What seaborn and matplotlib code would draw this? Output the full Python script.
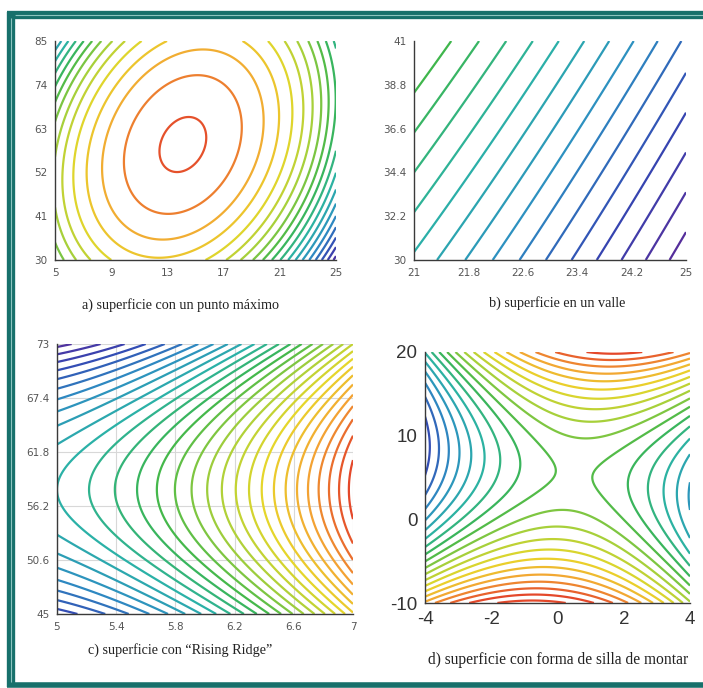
import numpy as np
import matplotlib
matplotlib.use("Agg")
import matplotlib.pyplot as plt
from matplotlib.lines import Line2D
import seaborn as sns

sns.set_theme(style="white")
plt.rcParams["font.family"] = ["Liberation Sans", "DejaVu Sans"]

# ---- tick values -------------------------------------------------------
xticks_a = [5, 9, 13, 17, 21, 25]
yticks_a = [30, 41, 52, 63, 74, 85]
xticks_b = [21, 21.8, 22.6, 23.4, 24.2, 25]
yticks_b = [30, 32.2, 34.4, 36.6, 38.8, 41]
xticks_c = [5, 5.4, 5.8, 6.2, 6.6, 7]
yticks_c = [45, 50.6, 56.2, 61.8, 67.4, 73]
xticks_d = [-4, -2, 0, 2, 4]
yticks_d = [-10, 0, 10, 20]

captions = [
    "a) superficie con un punto máximo",
    "b) superficie en un valle",
    "c) superficie con \u201cRising Ridge\u201d",
    "d) superficie con forma de silla de montar",
]

# ---- response surfaces (quadratic models) -------------------------------
# a) maximum: z = -Q,  Q = A dx^2 + B dy^2 + C dx dy
center_a = (14.1, 59.0)
coef_a = (1.0, 0.058, -0.12)
levels_a = [-221.0, -211.0, -201.0, -191.0, -181.0, -171.0, -161.0, -151.0,
            -141.0, -131.0, -121.0, -111.0, -101.0, -91.0, -80.0, -69.0,
            -57.0, -44.0, -31.0, -16.5, -2.6]
range_a = (-212.0, 0.0)

# b) valley: z = (y - y0) - p (x - x0) - q (x - x0)^2
origin_b = (21.0, 30.0)
coef_b = (4.67, 0.145)
levels_b = [-19.6, -17.6, -15.6, -13.6, -11.6, -9.6, -7.6, -5.6, -3.6,
            -1.6, 0.4, 2.4, 4.4, 6.4, 8.4]
range_b = (-20.5, 37.0)

# c) rising ridge: z = (x - xs)^2 - f (y - y0)^2
center_c = (4.3, 57.9)
coef_c = 0.016
levels_c = [-3.36, -3.01, -2.66, -2.31, -1.96, -1.61, -1.26, -0.91, -0.56,
            -0.21, 0.14, 0.49, 0.84, 1.19, 1.54, 1.89, 2.24, 2.59, 2.94,
            3.29, 3.64, 3.99, 4.34, 4.69, 5.04, 5.39, 5.74, 6.09, 6.44,
            6.79, 7.14]
range_c = (-3.4, 7.0)

# d) saddle: z = a dy^2 - b dx^2 + c dx dy
center_d = (0.5, 5.4)
coef_d = (1.0, 9.0, 1.5)
levels_d = [-181.3, -159.0, -136.7, -114.4, -92.1, -69.8, -47.5, -25.2, -2.9,
            19.4, 41.7, 64.0, 86.3, 108.6, 130.9, 153.2, 175.5, 197.8, 220.1, 242.4]
range_d = (-245.0, 215.0)

cmap = sns.blend_palette(["#5a2a98", "#3446b2", "#2d8ec2", "#2bb2a6", "#3db64c",
                          "#a8d03a", "#e8d62a", "#f3a533", "#e4482a"], as_cmap=True)

W, H = 703, 688
fig = plt.figure(figsize=(W / 100, H / 100), dpi=100)


def frac(l, t, r, b):
    return [l / W, 1 - b / H, (r - l) / W, (b - t) / H]


def style_axes(ax, xt, yt, labsize, labcolor, family, grid=False):
    for s in ("top", "right"):
        ax.spines[s].set_visible(False)
    for s in ("left", "bottom"):
        ax.spines[s].set_color("#3a3a3a")
        ax.spines[s].set_linewidth(1.0)
    ax.set_xticks(xt)
    ax.set_yticks(yt)
    ax.set_xticklabels([f"{v:g}" for v in xt], family=family)
    ax.set_yticklabels([f"{v:g}" for v in yt], family=family)
    ax.tick_params(axis="both", direction="inout", length=9, width=1.0,
                   color="#3a3a3a", labelsize=labsize, labelcolor=labcolor, pad=1)
    ax.set_xlim(xt[0], xt[-1])
    ax.set_ylim(yt[0], yt[-1])
    if grid:
        ax.grid(True, color="#d8d8d8", linewidth=0.8)
    else:
        ax.grid(False)
    ax.set_facecolor("white")


def draw(ax, X, Y, Z, levels, vrange):
    ax.contour(X, Y, Z, levels=levels, cmap=cmap, vmin=vrange[0], vmax=vrange[1],
               linewidths=1.6)


small_font = ["DejaVu Sans"]

# a
ax = fig.add_axes(frac(55, 41, 336, 260))
x = np.linspace(xticks_a[0], xticks_a[-1], 400)
y = np.linspace(yticks_a[0], yticks_a[-1], 400)
X, Y = np.meshgrid(x, y)
dx, dy = X - center_a[0], Y - center_a[1]
A, B, C = coef_a
Z = -(A * dx ** 2 + B * dy ** 2 + C * dx * dy)
draw(ax, X, Y, Z, levels_a, range_a)
style_axes(ax, xticks_a, yticks_a, 7.5, "#555555", small_font)

# b
ax = fig.add_axes(frac(414, 41, 686, 260))
x = np.linspace(xticks_b[0], xticks_b[-1], 400)
y = np.linspace(yticks_b[0], yticks_b[-1], 400)
X, Y = np.meshgrid(x, y)
u = X - origin_b[0]
Z = (Y - origin_b[1]) - coef_b[0] * u - coef_b[1] * u ** 2
draw(ax, X, Y, Z, levels_b, range_b)
style_axes(ax, xticks_b, yticks_b, 7.5, "#555555", small_font)

# c
ax = fig.add_axes(frac(57, 344, 353, 614))
x = np.linspace(xticks_c[0], xticks_c[-1], 400)
y = np.linspace(yticks_c[0], yticks_c[-1], 400)
X, Y = np.meshgrid(x, y)
Z = (X - center_c[0]) ** 2 - coef_c * (Y - center_c[1]) ** 2
style_axes(ax, xticks_c, yticks_c, 7.5, "#555555", small_font, grid=True)
draw(ax, X, Y, Z, levels_c, range_c)

# d
ax = fig.add_axes(frac(425, 352, 690, 603))
x = np.linspace(xticks_d[0], xticks_d[-1], 400)
y = np.linspace(yticks_d[0], yticks_d[-1], 400)
X, Y = np.meshgrid(x, y)
dx, dy = X - center_d[0], Y - center_d[1]
a, b, c = coef_d
Z = a * dy ** 2 - b * dx ** 2 + c * dx * dy
draw(ax, X, Y, Z, levels_d, range_d)
style_axes(ax, xticks_d, yticks_d, 13.5, "#333333", ["Liberation Sans"])

# captions
cap_pos = [(180, 305), (557, 303), (180, 650), (558, 660)]
cap_size = [10.2, 10.2, 10.2, 11.2]
for (px, py), txt, fs in zip(cap_pos, captions, cap_size):
    fig.text(px / W, 1 - py / H, txt, ha="center", va="center", fontsize=fs,
             family=["Liberation Serif", "DejaVu Serif"], color="#222222")

# teal frame around the panels
def hline(y0, x0, x1, lw, col):
    fig.add_artist(Line2D([x0 / W, x1 / W], [1 - y0 / H, 1 - y0 / H],
                          transform=fig.transFigure, lw=lw, color=col,
                          solid_capstyle="butt"))


def vline(x0, y0, y1, lw, col):
    fig.add_artist(Line2D([x0 / W, x0 / W], [1 - y0 / H, 1 - y1 / H],
                          transform=fig.transFigure, lw=lw, color=col,
                          solid_capstyle="butt"))


dark, light = "#17706b", "#8cc4bf"
hline(15, 7, W, 6.0, dark)
hline(15, 15, W, 0.8, light)
hline(684.5, 7, W, 4.0, dark)
vline(11, 12, 687, 6.0, dark)
vline(11, 18, 682, 0.8, light)

fig.savefig("out.png", dpi=100, facecolor="white")
